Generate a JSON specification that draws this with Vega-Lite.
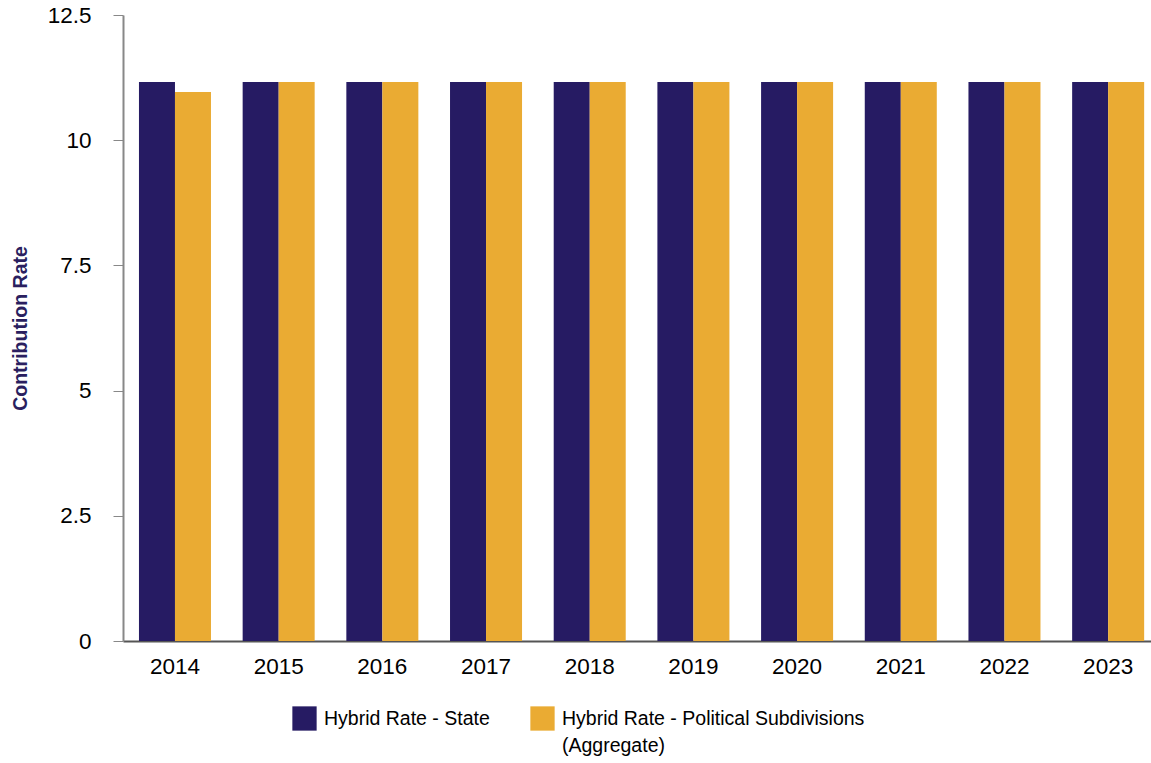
{
  "$schema": "https://vega.github.io/schema/vega-lite/v6.json",
  "autosize": {"type": "none"},
  "width": 1028,
  "height": 626,
  "padding": {"left": 123, "top": 15, "right": 0, "bottom": 122},
  "background": "white",
  "config": {"font": "Liberation Sans", "view": {"stroke": null}},
  "data": {
    "values": [
      {"year": "2014", "series": "Hybrid Rate - State", "rate": 11.16},
      {"year": "2014", "series": "Hybrid Rate - Political Subdivisions (Aggregate)", "rate": 10.96},
      {"year": "2015", "series": "Hybrid Rate - State", "rate": 11.16},
      {"year": "2015", "series": "Hybrid Rate - Political Subdivisions (Aggregate)", "rate": 11.16},
      {"year": "2016", "series": "Hybrid Rate - State", "rate": 11.16},
      {"year": "2016", "series": "Hybrid Rate - Political Subdivisions (Aggregate)", "rate": 11.16},
      {"year": "2017", "series": "Hybrid Rate - State", "rate": 11.16},
      {"year": "2017", "series": "Hybrid Rate - Political Subdivisions (Aggregate)", "rate": 11.16},
      {"year": "2018", "series": "Hybrid Rate - State", "rate": 11.16},
      {"year": "2018", "series": "Hybrid Rate - Political Subdivisions (Aggregate)", "rate": 11.16},
      {"year": "2019", "series": "Hybrid Rate - State", "rate": 11.16},
      {"year": "2019", "series": "Hybrid Rate - Political Subdivisions (Aggregate)", "rate": 11.16},
      {"year": "2020", "series": "Hybrid Rate - State", "rate": 11.16},
      {"year": "2020", "series": "Hybrid Rate - Political Subdivisions (Aggregate)", "rate": 11.16},
      {"year": "2021", "series": "Hybrid Rate - State", "rate": 11.16},
      {"year": "2021", "series": "Hybrid Rate - Political Subdivisions (Aggregate)", "rate": 11.16},
      {"year": "2022", "series": "Hybrid Rate - State", "rate": 11.16},
      {"year": "2022", "series": "Hybrid Rate - Political Subdivisions (Aggregate)", "rate": 11.16},
      {"year": "2023", "series": "Hybrid Rate - State", "rate": 11.16},
      {"year": "2023", "series": "Hybrid Rate - Political Subdivisions (Aggregate)", "rate": 11.16}
    ]
  },
  "mark": {"type": "bar"},
  "encoding": {
    "x": {
      "field": "year",
      "type": "ordinal",
      "scale": {"paddingInner": 0.3055, "paddingOuter": 0.11, "align": 0.7},
      "axis": {
        "title": null,
        "labelAngle": 0,
        "labelFontSize": 22.5,
        "labelColor": "#000000",
        "ticks": false,
        "domainColor": "#555555",
        "domainWidth": 2,
        "labelPadding": 14
      }
    },
    "xOffset": {
      "field": "series",
      "sort": ["Hybrid Rate - State", "Hybrid Rate - Political Subdivisions (Aggregate)"],
      "scale": {"paddingInner": 0, "paddingOuter": 0}
    },
    "y": {
      "field": "rate",
      "type": "quantitative",
      "scale": {"domain": [0, 12.5]},
      "axis": {
        "values": [0, 2.5, 5, 7.5, 10, 12.5],
        "labelExpr": "'' + datum.value",
        "grid": false,
        "title": "Contribution Rate",
        "titleFontSize": 19.5,
        "titleFontWeight": "bold",
        "titleColor": "#2a1f60",
        "labelFontSize": 22.5,
        "labelColor": "#000000",
        "tickSize": 10,
        "tickColor": "#888888",
        "domainColor": "#888888",
        "domainWidth": 2,
        "labelPadding": 22,
        "titlePadding": 17
      }
    },
    "color": {
      "field": "series",
      "type": "nominal",
      "scale": {
        "domain": ["Hybrid Rate - State", "Hybrid Rate - Political Subdivisions (Aggregate)"],
        "range": ["#261b63", "#eaab33"]
      },
      "legend": {
        "title": null,
        "orient": "none",
        "legendX": 169,
        "legendY": 691,
        "direction": "horizontal",
        "symbolType": "square",
        "symbolSize": 590,
        "symbolStrokeWidth": 0,
        "symbolOpacity": 1,
        "labelFontSize": 19.5,
        "labelColor": "#000000",
        "labelOffset": 7,
        "labelLimit": 500,
        "columnPadding": 40,
        "padding": 0,
        "labelBaseline": "middle",
        "labelExpr": "datum.label == 'Hybrid Rate - Political Subdivisions (Aggregate)' ? ['Hybrid Rate - Political Subdivisions', '(Aggregate)'] : [datum.label, ' ']",
        "encode": {"labels": {"update": {"lineHeight": {"value": 27}}}}
      }
    }
  }
}
